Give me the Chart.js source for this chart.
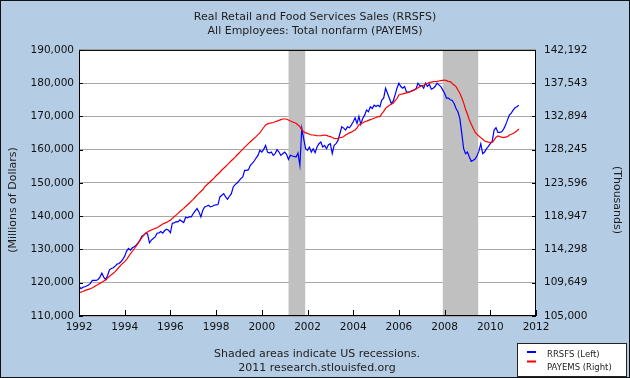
<!DOCTYPE html>
<html>
<head>
<meta charset="utf-8">
<script src="https://cdn.jsdelivr.net/npm/chart.js@4.4.1/dist/chart.umd.min.js"></script>
<style>
  html, body { margin: 0; padding: 0; background: #b4cce4; }
  canvas { display: block; }
</style>
</head>
<body>
<canvas id="chart" width="630" height="378"></canvas>
<script>
// Monthly values, January 1992 onwards
const startYear = 1992;

// Real Retail and Food Services Sales, millions of dollars (left axis)
const rrsfs = [
  119100, 118200, 118600, 118800, 119000, 119300, 119800, 120700, 120700, 120700, 121000, 121700, // 1992
  122900, 121700, 120900, 122200, 123900, 124300, 124500, 125000, 125600, 125800, 126300, 127000, // 1993
  128000, 129500, 130300, 129800, 130500, 130800, 131300, 132000, 132800, 134000, 134300, 134900, // 1994
  134700, 132000, 132800, 133300, 133800, 134900, 135000, 135400, 134900, 135700, 136100, 135800, // 1995
  135000, 137900, 138000, 138400, 138300, 138900, 138500, 138100, 139700, 139500, 139900, 139800, // 1996
  140800, 141600, 142300, 141300, 139800, 141800, 142800, 143000, 143300, 142800, 143000, 143300, // 1997
  143400, 143500, 145800, 146300, 146800, 145800, 145100, 146000, 146800, 148800, 149500, 150000, // 1998
  150600, 151300, 151800, 153800, 153800, 154000, 155300, 155900, 156600, 157500, 158300, 159800, // 1999
  159300, 160100, 161300, 159300, 159000, 159300, 158300, 158800, 160000, 159300, 158300, 158800, // 2000
  159300, 158600, 157100, 158300, 158100, 158000, 157800, 159000, 155300, 166400, 163300, 160300, // 2001
  159800, 160800, 159300, 160300, 159100, 160800, 161800, 162300, 160800, 161300, 160300, 161500, // 2002
  161800, 158800, 161300, 161800, 162800, 164800, 166900, 166500, 165900, 166900, 166600, 167400, // 2003
  168400, 169600, 167900, 170000, 167600, 169400, 170400, 171900, 171400, 172900, 172400, 173400, // 2004
  173000, 173400, 172900, 174900, 175500, 178500, 177000, 175500, 173900, 174600, 176500, 178500, // 2005
  180000, 179000, 178500, 179000, 177300, 177300, 177500, 177800, 178000, 178300, 180000, 179300, // 2006
  179300, 178500, 180000, 179000, 179700, 178200, 178500, 179000, 180000, 179500, 179000, 178000, // 2007
  177000, 175500, 175500, 175000, 174800, 173900, 172400, 171400, 169400, 165000, 160300, 158800, // 2008
  159300, 157800, 156500, 156800, 157200, 158200, 159500, 161800, 158800, 159300, 160300, 161000, // 2009
  161800, 162500, 165900, 166600, 165200, 165200, 165400, 166200, 167400, 168900, 170400, 171000, // 2010
  171900, 172600, 172900, 173400                                                                  // 2011
];

// All Employees: Total nonfarm, thousands (right axis)
const payems = [
  108260, 108340, 108430, 108550, 108650, 108720, 108820, 108950, 109100, 109250, 109400, 109560, // 1992
  109720, 109880, 110030, 110300, 110550, 110780, 110980, 111200, 111500, 111820, 112100, 112380, // 1993
  112600, 112900, 113300, 113700, 114050, 114400, 114780, 115150, 115550, 115950, 116300, 116580, // 1994
  116750, 116900, 117020, 117130, 117250, 117340, 117500, 117680, 117850, 117980, 118080, 118250, // 1995
  118400, 118650, 118880, 119100, 119350, 119600, 119820, 120050, 120300, 120550, 120800, 121050, // 1996
  121300, 121600, 121900, 122150, 122400, 122650, 123050, 123310, 123550, 123800, 124050, 124300, // 1997
  124600, 124850, 125100, 125410, 125650, 125900, 126150, 126450, 126700, 126950, 127200, 127500, // 1998
  127750, 128050, 128300, 128600, 128850, 129100, 129350, 129600, 129850, 130070, 130350, 130600, // 1999
  131000, 131350, 131700, 131850, 131940, 132000, 132050, 132160, 132250, 132350, 132450, 132540, // 2000
  132540, 132540, 132400, 132260, 132150, 132050, 131940, 131700, 131470, 131000, 130800, 130600, // 2001
  130540, 130400, 130300, 130300, 130250, 130200, 130200, 130200, 130250, 130300, 130250, 130150, // 2002
  130070, 129950, 129840, 129800, 129850, 129930, 129950, 130100, 130300, 130450, 130600, 130700, // 2003
  130860, 131000, 131300, 131700, 131900, 131980, 132160, 132250, 132350, 132450, 132540, 132650, // 2004
  132750, 132860, 132860, 133250, 133600, 134030, 134250, 134450, 134600, 134730, 135100, 135400, // 2005
  135900, 136000, 136050, 136130, 136200, 136270, 136350, 136460, 136600, 136750, 136900, 137060, // 2006
  137150, 137250, 137400, 137500, 137670, 137700, 137750, 137780, 137800, 137850, 137900, 137950, // 2007
  137990, 137900, 137800, 137760, 137500, 137300, 137060, 136600, 136130, 135500, 134800, 133900, // 2008
  133200, 132400, 131800, 131240, 130700, 130400, 130150, 129930, 129700, 129470, 129380, 129300, // 2009
  129280, 129280, 129600, 130000, 130160, 130070, 130000, 129930, 130000, 130070, 130300, 130400, // 2010
  130500, 130680, 130900, 131140                                                                  // 2011
];

// US recessions (decimal years)
const recessionStart = [2001.17, 2007.92];
const recessionEnd = [2001.9, 2009.47];

// Tick values
const xTicks = [1992, 1994, 1996, 1998, 2000, 2002, 2004, 2006, 2008, 2010, 2012];
const leftTicks = [110000, 120000, 130000, 140000, 150000, 160000, 170000, 180000, 190000];
const rightTicks = [105000, 109649, 114298, 118947, 123596, 128245, 132894, 137543, 142192];

const titleLines = ['Real Retail and Food Services Sales (RRSFS)', 'All Employees: Total nonfarm (PAYEMS)'];
const footLines = ['Shaded areas indicate US recessions.', '2011 research.stlouisfed.org'];

const FONT = '"DejaVu Sans", Verdana, sans-serif';
const BG = '#b4cce4';

const toPoints = vals => vals.map((v, i) => ({ x: startYear + i / 12, y: v }));

// background, plot fill and recession bands
const backdrop = {
  id: 'backdrop',
  beforeDraw(chart) {
    const { ctx, chartArea: a } = chart;
    ctx.save();
    ctx.fillStyle = BG;
    ctx.fillRect(0, 0, chart.width, chart.height);
    ctx.fillStyle = '#ffffff';
    ctx.fillRect(a.left, a.top, a.right - a.left, a.bottom - a.top);
    ctx.restore();
  },
  beforeDatasetsDraw(chart) {
    const { ctx, chartArea: a, scales } = chart;
    ctx.save();
    ctx.fillStyle = '#c0c0c0';
    recessionStart.forEach((s, i) => {
      const x0 = scales.x.getPixelForValue(s);
      const x1 = scales.x.getPixelForValue(recessionEnd[i]);
      ctx.fillRect(x0, a.top, x1 - x0, a.bottom - a.top);
    });
    ctx.restore();
  }
};

// frame, inner tick marks, axis titles, footnote and legend
const decorations = {
  id: 'decorations',
  afterDraw(chart) {
    const { ctx, chartArea: a, scales } = chart;
    ctx.save();
    ctx.strokeStyle = '#000';
    ctx.lineWidth = 1;
    ctx.strokeRect(a.left + 0.5, a.top + 0.5, a.right - a.left - 1, a.bottom - a.top - 1);

    ctx.beginPath();
    xTicks.forEach(v => {
      const x = Math.round(scales.x.getPixelForValue(v)) + 0.5;
      ctx.moveTo(x, a.bottom);
      ctx.lineTo(x, a.bottom - 6);
    });
    leftTicks.forEach(v => {
      const y = Math.round(scales.yLeft.getPixelForValue(v)) + 0.5;
      ctx.moveTo(a.left, y);
      ctx.lineTo(a.left + 4, y);
    });
    rightTicks.forEach(v => {
      const y = Math.round(scales.yRight.getPixelForValue(v)) + 0.5;
      ctx.moveTo(a.right, y);
      ctx.lineTo(a.right - 4, y);
    });
    ctx.stroke();

    ctx.fillStyle = '#1e1e1e';
    ctx.font = '11px ' + FONT;
    ctx.textAlign = 'center';
    ctx.textBaseline = 'middle';

    ctx.save();
    ctx.translate(13, 200);
    ctx.rotate(-Math.PI / 2);
    ctx.fillText('(Millions of Dollars)', 0, 0);
    ctx.restore();

    ctx.save();
    ctx.translate(617, 200);
    ctx.rotate(Math.PI / 2);
    ctx.fillText('(Thousands)', 0, 0);
    ctx.restore();

    ctx.fillText(footLines[0], 317, 354);
    ctx.fillText(footLines[1], 317, 368);

    // legend box
    ctx.fillStyle = '#ffffff';
    ctx.fillRect(517, 343, 110, 34);
    ctx.strokeStyle = '#222';
    ctx.strokeRect(517.5, 343.5, 109, 33);
    const items = chart.data.datasets.slice().reverse();
    items.forEach((ds, i) => {
      const y = 352 + i * 9.5;
      ctx.fillStyle = ds.borderColor;
      ctx.fillRect(527, y - 1, 9, 2);
      ctx.fillStyle = '#1e1e1e';
      ctx.font = '8.5px ' + FONT;
      ctx.textAlign = 'left';
      ctx.fillText(ds.label, 547, y + 2.5 + i * 4);
    });

    ctx.strokeStyle = '#111';
    ctx.strokeRect(0.5, 0.5, chart.width - 1, chart.height - 1);
    ctx.restore();
  }
};

const tickFont = { family: FONT, size: 10.5 };

new Chart(document.getElementById('chart'), {
  type: 'line',
  data: {
    datasets: [
      {
        label: 'PAYEMS (Right)',
        data: toPoints(payems),
        yAxisID: 'yRight',
        borderColor: '#ff0000',
        borderWidth: 1.2,
        pointRadius: 0,
        tension: 0,
        order: 1
      },
      {
        label: 'RRSFS (Left)',
        data: toPoints(rrsfs),
        yAxisID: 'yLeft',
        borderColor: '#0000ff',
        borderWidth: 1.2,
        pointRadius: 0,
        tension: 0,
        order: 2
      }
    ]
  },
  options: {
    responsive: false,
    animation: false,
    locale: 'en-US',
    layout: { padding: 0 },
    plugins: {
      legend: { display: false },
      tooltip: { enabled: false },
      title: {
        display: true,
        text: titleLines,
        color: '#1e1e1e',
        font: { family: FONT, size: 11, weight: 'normal', lineHeight: 1.27 },
        padding: { top: 10, bottom: 12 }
      }
    },
    scales: {
      x: {
        type: 'linear',
        min: 1992,
        max: 2012,
        afterBuildTicks: s => { s.ticks = xTicks.map(v => ({ value: v })); },
        afterFit: s => { s.height = 62; },
        grid: { display: false, drawTicks: false },
        border: { display: false },
        ticks: { color: '#111', font: tickFont, padding: 5, maxRotation: 0, autoSkip: false, callback: v => String(v) }
      },
      yLeft: {
        position: 'left',
        min: 110000,
        max: 190000,
        afterBuildTicks: s => { s.ticks = leftTicks.map(v => ({ value: v })); },
        afterFit: s => { s.width = 79; },
        grid: { color: '#a8a8a8', drawTicks: false },
        border: { display: false },
        ticks: { color: '#111', font: tickFont, padding: 5 }
      },
      yRight: {
        position: 'right',
        min: 105000,
        max: 142192,
        afterBuildTicks: s => { s.ticks = rightTicks.map(v => ({ value: v })); },
        afterFit: s => { s.width = 94; },
        grid: { display: false, drawTicks: false },
        border: { display: false },
        ticks: { color: '#111', font: tickFont, padding: 8 }
      }
    }
  },
  plugins: [backdrop, decorations]
});
</script>
</body>
</html>
